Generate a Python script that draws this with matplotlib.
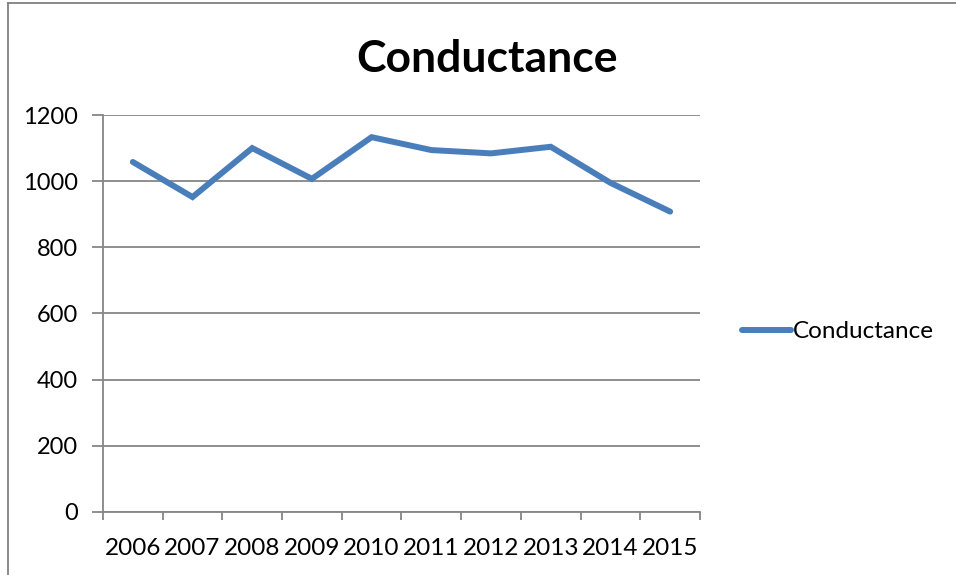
import matplotlib.pyplot as plt
from matplotlib.lines import Line2D

years = ["2006", "2007", "2008", "2009", "2010", "2011", "2012", "2013", "2014", "2015"]
conductance = [1058, 952, 1100, 1007, 1133, 1094, 1084, 1104, 995, 908]
yticks = [0, 200, 400, 600, 800, 1000, 1200]

plt.rcParams['font.family'] = ['Lato', 'DejaVu Sans']

fig = plt.figure(figsize=(9.56, 5.75), dpi=100)
ax = fig.add_axes([0.1077, 0.1096, 0.6245, 0.6904])

x = list(range(len(years)))
ax.plot(x, conductance, color='#4A7EBB', linewidth=4.3, solid_capstyle='round',
        solid_joinstyle='miter', label='Conductance')

ax.set_xlim(-0.5, len(years) - 0.5)
ax.set_ylim(0, 1200)
ax.set_yticks(yticks)
ax.set_yticklabels([str(v) for v in yticks])
ax.yaxis.grid(True, color='#868686', linewidth=1.3)
ax.set_axisbelow(True)

# category axis: ticks between categories, labels at centers
ax.set_xticks([i - 0.5 for i in range(len(years) + 1)])
ax.set_xticklabels([])
ax.set_xticks(x, minor=True)
ax.set_xticklabels(years, minor=True)
ax.tick_params(axis='x', which='major', length=6, width=1.3, color='#868686', direction='out')
ax.tick_params(axis='x', which='minor', length=0, labelsize=17.5, pad=19)
ax.tick_params(axis='y', length=8, width=1.3, color='#868686', labelsize=17, pad=10)

for side in ['top', 'right']:
    ax.spines[side].set_visible(False)
for side in ['left', 'bottom']:
    ax.spines[side].set_color('#868686')
    ax.spines[side].set_linewidth(1.3)

fig.text(0.509, 0.898, 'Conductance', ha='center', va='center', fontsize=32, fontweight='bold')

fig.legend(handles=[Line2D([0], [0], color='#4A7EBB', linewidth=4.3, solid_capstyle='round')],
           labels=['Conductance'], loc='center left', bbox_to_anchor=(0.7636, 0.423),
           frameon=False, fontsize=17.5, handlelength=2.0, handletextpad=0.1, borderpad=0)

# chart border
fig.add_artist(Line2D([7.5 / 956, 7.5 / 956], [0, 1 - 3 / 575], color='#808080', linewidth=1.3))
fig.add_artist(Line2D([7.5 / 956, 1], [1 - 3 / 575, 1 - 3 / 575], color='#808080', linewidth=1.3))

fig.savefig('out.png', dpi=100)
